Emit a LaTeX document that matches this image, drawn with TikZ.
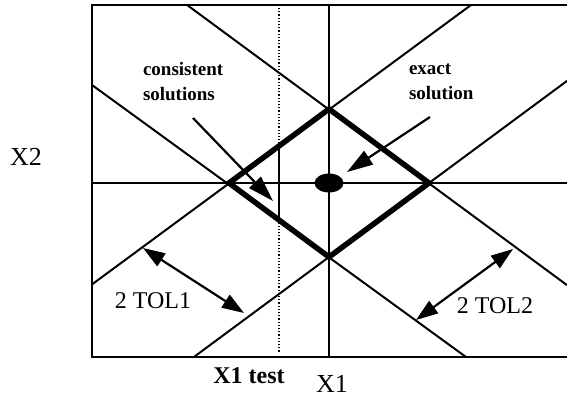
\documentclass[tikz,border=0pt]{standalone}
\usepackage{fontspec}
\setmainfont{Liberation Serif}
\usetikzlibrary{arrows.meta, calc}
\tikzset{
  every picture/.style={x=1pt, y=-1pt, line width=2pt},
  bound/.style={line width=5.5pt, line join=miter},
  pointer/.style={-{Triangle[length=26pt, width=16pt]}, line width=2.2pt},
  gap/.style={{Triangle[length=22pt, width=15pt]}-{Triangle[length=22pt, width=15pt]}, line width=2.2pt},
  note/.style={font=\fontsize{19}{25}\selectfont\bfseries, align=left, anchor=west, inner sep=0pt},
  tag/.style={font=\fontsize{24}{28}\selectfont, inner sep=0pt, anchor=base},
}
\begin{document}
\begin{tikzpicture}
  \useasboundingbox (0,0) rectangle (567,400);
  % frame and axes
  \draw (567,5) -- (92,5) -- (92,357) -- (567,357);
  \draw (92,183) -- (567,183);
  \draw (329,5) -- (329,357);
  % tolerance bands
  \coordinate (T) at (329,109);
  \coordinate (L) at (229,183);
  \coordinate (R) at (429,183);
  \coordinate (B) at (329,257);
  \draw (471,5) -- (92,284.4);
  \draw (187.1,5) -- (567,285.1);
  \draw (92,85) -- (466,357);
  \draw (193.9,357) -- (567,80.9);
  \draw[bound] (T) -- (R) -- (B) -- (L) -- cycle;
  % test value
  \draw[dotted, line width=1.2pt] (279,8) -- (279,352);
  \draw[line width=2.6pt] (279,146) -- (279,220);
  \fill (329,183) ellipse [x radius=14.5pt, y radius=9.5pt];
  % labels and pointers
  \node[note] (cons) at (142,82) {consistent\\solutions};
  \node[note] (exact) at (408,82) {exact\\solution};
  \coordinate (cons from) at (193,118);
  \coordinate (cons tip) at (273,201);
  \coordinate (exact from) at (430,117);
  \coordinate (exact tip) at (347,172);
  \draw[pointer] (cons from) -- (cons tip);
  \draw[pointer] (exact from) -- (exact tip);
  \coordinate (tol1 a) at (143,248);
  \coordinate (tol1 b) at (244,313);
  \coordinate (tol2 a) at (416,320);
  \coordinate (tol2 b) at (513,249);
  \draw[gap] (tol1 a) -- (tol1 b);
  \draw[gap] (tol2 a) -- (tol2 b);
  \node[tag] (tol1) at (153,308) {2 TOL1};
  \node[tag] (tol2) at (495,313) {2 TOL2};
  \node[tag, font=\fontsize{24}{28}\selectfont\bfseries] (xtest) at (249,383) {X1 test};
  \node[tag, font=\fontsize{26}{30}\selectfont] (xone) at (332,392) {X1};
  \node[tag, font=\fontsize{26}{30}\selectfont] (xtwo) at (26,165) {X2};
\end{tikzpicture}
\end{document}
